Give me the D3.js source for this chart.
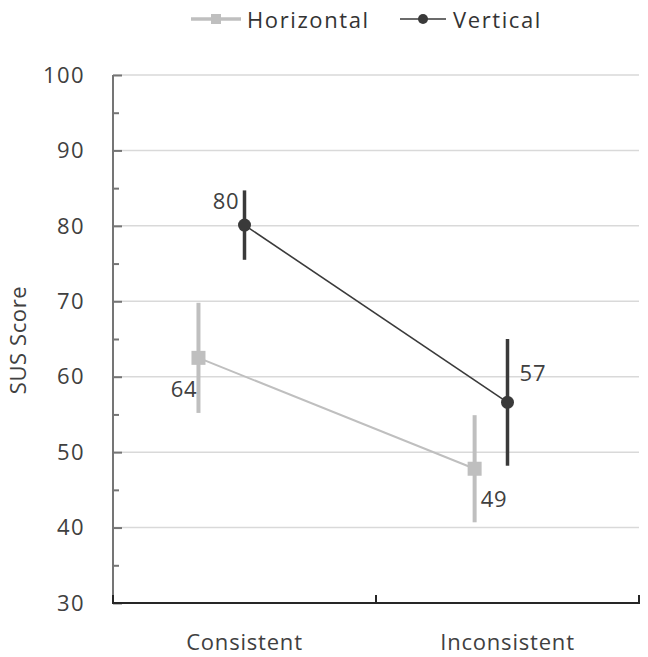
<!DOCTYPE html>
<html>
<head>
<meta charset="utf-8">
<script src="https://cdn.jsdelivr.net/npm/d3@7"></script>
<style>
  html, body { margin: 0; padding: 0; background: #fff; }
  svg { display: block; font-family: "Open Sans", "Noto Sans", sans-serif; }
</style>
</head>
<body>
<svg id="chart" width="648" height="657"></svg>
<script>
// ---- data ----
const categories = ["Consistent", "Inconsistent"];
const seriesNames = ["Horizontal", "Vertical"];
// x positions (category index units, 1 = Consistent, 2 = Inconsistent)
const horizontalX = [0.825, 1.875];
const verticalX = [1.0, 2.0];
const horizontalMean = [62.5, 47.8];
const verticalMean = [80.1, 56.6];
const horizontalErr = [7.3, 7.1];
const verticalErr = [4.6, 8.4];
const horizontalLabels = ["64", "49"];
const verticalLabels = ["80", "57"];
const yTicks = [30, 40, 50, 60, 70, 80, 90, 100];
const yMinorTicks = [35, 45, 55, 65, 75, 85, 95];

(function () {
const svg = d3.select("#chart");
const pL = 113, pR = 639, pT = 75, pB = 603;

const y = d3.scaleLinear().domain([30, 100]).range([pB, pT]);
const xBand = d3.scaleBand().domain(categories).range([pL, pR]).padding(0);
const x = d3.scaleLinear()
  .domain([1, 2])
  .range([xBand("Consistent") + xBand.bandwidth() / 2, xBand("Inconsistent") + xBand.bandwidth() / 2]);

const colH = "#bfbfbf", colV = "#3a3a3a";
const textCol = "#404040";

// gridlines
svg.append("g").selectAll("line").data(yTicks.filter(d => d > 30)).join("line")
  .attr("x1", pL).attr("x2", pR)
  .attr("y1", d => y(d)).attr("y2", d => y(d))
  .attr("stroke", "#d9d9d9").attr("stroke-width", 1.5);

// y axis
const yAxis = d3.axisRight(y).tickValues(yTicks).tickSize(9).tickFormat("");
const gy = svg.append("g").attr("transform", `translate(${pL},0)`).call(yAxis);
gy.select(".domain").remove();
gy.selectAll(".tick line").attr("stroke", "#757575").attr("stroke-width", 2);
const yMinor = d3.axisRight(y).tickValues(yMinorTicks).tickSize(6).tickFormat("");
const gym = svg.append("g").attr("transform", `translate(${pL},0)`).call(yMinor);
gym.select(".domain").remove();
gym.selectAll(".tick line").attr("stroke", "#757575").attr("stroke-width", 2);
svg.append("line").attr("x1", pL).attr("x2", pL).attr("y1", pT).attr("y2", pB)
  .attr("stroke", "#757575").attr("stroke-width", 2);

// y tick labels
svg.append("g").selectAll("text").data(yTicks).join("text")
  .attr("x", 85).attr("y", d => y(d))
  .attr("dy", "0.35em")
  .attr("text-anchor", "end")
  .attr("font-size", 22).attr("letter-spacing", 1.4)
  .attr("fill", textCol)
  .text(d => d);

// x axis
svg.append("line").attr("x1", pL - 1).attr("x2", pR + 1).attr("y1", pB).attr("y2", pB)
  .attr("stroke", "#262626").attr("stroke-width", 2);
const xTickPos = [pL, pL + xBand.bandwidth(), pR];
svg.append("g").selectAll("line").data(xTickPos).join("line")
  .attr("x1", d => d).attr("x2", d => d)
  .attr("y1", pB).attr("y2", pB - 8)
  .attr("stroke", "#262626").attr("stroke-width", 2);
svg.append("g").selectAll("text").data(categories).join("text")
  .attr("x", d => xBand(d) + xBand.bandwidth() / 2)
  .attr("y", 650)
  .attr("text-anchor", "middle")
  .attr("font-size", 22).attr("letter-spacing", 0.8)
  .attr("fill", textCol)
  .text(d => d);

// y title
svg.append("text")
  .attr("transform", `translate(26,340) rotate(-90)`)
  .attr("text-anchor", "middle")
  .attr("font-size", 22).attr("letter-spacing", 0.6)
  .attr("fill", textCol)
  .text("SUS Score");

// series
function drawSeries(xs, means, errs, color, lineW, errW, marker) {
  const pts = xs.map((v, i) => ({ x: v, m: means[i], e: errs[i] }));
  svg.append("path").datum(pts)
    .attr("d", d3.line().x(d => x(d.x)).y(d => y(d.m)))
    .attr("fill", "none").attr("stroke", color).attr("stroke-width", lineW);
  svg.append("g").selectAll("line").data(pts).join("line")
    .attr("x1", d => x(d.x)).attr("x2", d => x(d.x))
    .attr("y1", d => y(d.m + d.e)).attr("y2", d => y(d.m - d.e))
    .attr("stroke", color).attr("stroke-width", errW);
  if (marker === "square") {
    svg.append("g").selectAll("rect").data(pts).join("rect")
      .attr("x", d => x(d.x) - 7).attr("y", d => y(d.m) - 7)
      .attr("width", 14).attr("height", 14).attr("fill", color);
  } else {
    svg.append("g").selectAll("circle").data(pts).join("circle")
      .attr("cx", d => x(d.x)).attr("cy", d => y(d.m)).attr("r", 6.5).attr("fill", color);
  }
}
drawSeries(horizontalX, horizontalMean, horizontalErr, colH, 2, 4, "square");
drawSeries(verticalX, verticalMean, verticalErr, colV, 1.6, 3.5, "circle");

// data labels
const labelStyle = sel => sel.attr("font-size", 22).attr("fill", textCol).attr("letter-spacing", 0.8);
svg.append("text").call(labelStyle)
  .attr("x", x(horizontalX[0]) - 1).attr("y", y(horizontalMean[0]) + 39)
  .attr("text-anchor", "end").text(horizontalLabels[0]);
svg.append("text").call(labelStyle)
  .attr("x", x(horizontalX[1]) + 6).attr("y", y(horizontalMean[1]) + 38)
  .attr("text-anchor", "start").text(horizontalLabels[1]);
svg.append("text").call(labelStyle)
  .attr("x", x(verticalX[0]) - 5).attr("y", y(verticalMean[0]) - 16)
  .attr("text-anchor", "end").text(verticalLabels[0]);
svg.append("text").call(labelStyle)
  .attr("x", x(verticalX[1]) + 12).attr("y", y(verticalMean[1]) - 21)
  .attr("text-anchor", "start").text(verticalLabels[1]);

// legend
const lg = svg.append("g");
lg.append("line").attr("x1", 191).attr("x2", 241).attr("y1", 19).attr("y2", 19)
  .attr("stroke", colH).attr("stroke-width", 3.5);
lg.append("rect").attr("x", 211).attr("y", 14).attr("width", 10).attr("height", 10).attr("fill", colH);
lg.append("text").attr("x", 247).attr("y", 28).attr("font-size", 22).attr("letter-spacing", 1.6)
  .attr("fill", "#333").text(seriesNames[0]);
lg.append("line").attr("x1", 400).attr("x2", 446).attr("y1", 19).attr("y2", 19)
  .attr("stroke", colV).attr("stroke-width", 1.6);
lg.append("circle").attr("cx", 423).attr("cy", 19).attr("r", 5).attr("fill", colV);
lg.append("text").attr("x", 453).attr("y", 28).attr("font-size", 22).attr("letter-spacing", 1.6)
  .attr("fill", "#333").text(seriesNames[1]);
})();
</script>
</body>
</html>
